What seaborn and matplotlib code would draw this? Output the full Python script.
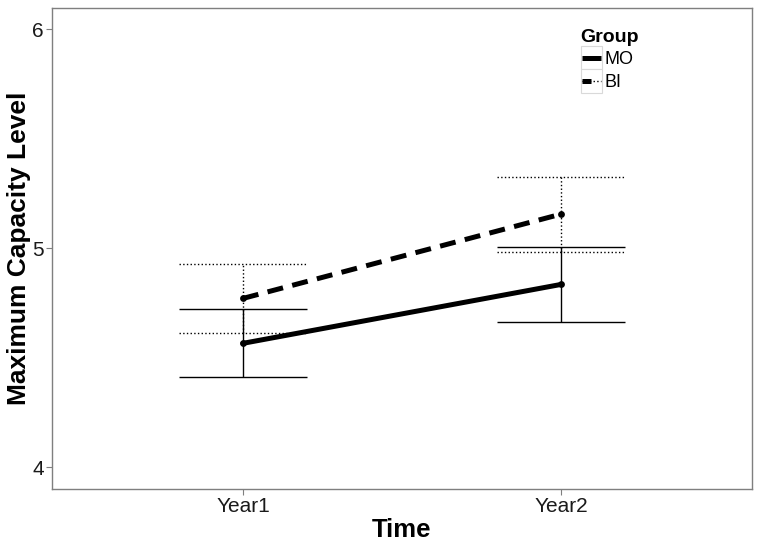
import matplotlib
matplotlib.use("Agg")
import matplotlib.pyplot as plt
import seaborn as sns
import pandas as pd
from matplotlib.lines import Line2D
from matplotlib.patches import Rectangle
from matplotlib.legend_handler import HandlerBase

times = ["Year1", "Year2"]
groups = ["MO", "BI"]
mo_mean = [4.565, 4.834]
mo_low = [4.412, 4.663]
mo_high = [4.721, 5.003]
bi_mean = [4.770, 5.155]
bi_low = [4.610, 4.982]
bi_high = [4.926, 5.326]

df = pd.DataFrame({
    "Time": times * 2,
    "Group": ["MO"] * 2 + ["BI"] * 2,
    "Mean": mo_mean + bi_mean,
    "Low": mo_low + bi_low,
    "High": mo_high + bi_high,
})

sns.set_theme(style="white")
plt.rcParams["font.family"] = ["Liberation Sans", "DejaVu Sans"]

fig = plt.figure(figsize=(7.62, 5.46), dpi=100)
ax = fig.add_axes([52 / 762, (546 - 489) / 546, 700 / 762, 481 / 546])

sns.pointplot(data=df, x="Time", y="Mean", hue="Group", order=times,
              hue_order=groups, errorbar=None, palette=["black", "black"],
              linestyles=["-", "--"], markers=["o", "o"], markersize=2.2,
              linewidth=3.6, ax=ax, legend=False)

for line in ax.lines:
    if line.get_linestyle() == "--":
        line.set_dashes([3.2, 1.9])

styles = {"MO": "-", "BI": ":"}
for g in groups:
    sub = df[df["Group"] == g].set_index("Time").loc[times]
    xs = list(range(len(times)))
    ls = styles[g]
    ax.vlines(xs, sub["Low"], sub["High"], colors="black", linestyles=ls, linewidth=1.0, zorder=1)
    for x, lo, hi in zip(xs, sub["Low"], sub["High"]):
        ax.hlines([lo, hi], x - 0.2, x + 0.2, colors="black", linestyles=ls, linewidth=1.0, zorder=1)

ax.set_xlim(-0.6, 1.6)
ax.set_ylim(3.9, 6.096)
ax.set_yticks([4, 5, 6])
ax.set_yticklabels(["4", "5", "6"])
ax.set_xlabel("Time", fontsize=18.5, fontweight="bold", labelpad=1, color="black")
ax.set_ylabel("Maximum Capacity Level", fontsize=19, fontweight="bold", labelpad=1, color="black")
ax.tick_params(axis="both", labelsize=15, length=4, width=0.8,
               direction="out", bottom=True, left=True, pad=2,
               labelcolor="#1a1a1a", color="#7f7f7f")
for s in ax.spines.values():
    s.set_color("#7f7f7f")
    s.set_linewidth(1.0)


class KeyHandler(HandlerBase):
    def create_artists(self, legend, orig_handle, xdescent, ydescent,
                       width, height, fontsize, trans):
        x0, y0 = -xdescent, -ydescent
        rect = Rectangle((x0, y0), width, height, facecolor="white",
                         edgecolor="#d9d9d9", linewidth=0.8, transform=trans)
        ym = y0 + height / 2
        artists = [rect]
        if orig_handle.get_linestyle() == "-":
            artists.append(Line2D([x0 + 1, x0 + width - 1], [ym, ym], color="black",
                                  lw=3.6, solid_capstyle="butt", transform=trans))
        else:
            artists.append(Line2D([x0 + 1, x0 + width - 1], [ym, ym], color="black",
                                  lw=1.0, ls=":", transform=trans))
            artists.append(Line2D([x0 + 1, x0 + width * 0.5], [ym, ym], color="black",
                                  lw=3.6, solid_capstyle="butt", transform=trans))
        return artists


handles = [Line2D([0], [0], color="black", lw=3.6, ls="-"),
           Line2D([0], [0], color="black", lw=3.6, ls="--")]
leg = ax.legend(handles, groups, title="Group", loc="upper left",
                bbox_to_anchor=(0.755, 0.956), frameon=False, fontsize=13,
                handlelength=1.2, handleheight=1.6, handletextpad=0.15,
                labelspacing=0.0, borderaxespad=0, borderpad=0,
                handler_map={Line2D: KeyHandler()})
leg.get_title().set_fontweight("bold")
leg.get_title().set_fontsize(14)
leg.get_title().set_color("black")
for t in leg.get_texts():
    t.set_color("black")
leg._legend_box.align = "left"

fig.savefig("out.png", dpi=100)
